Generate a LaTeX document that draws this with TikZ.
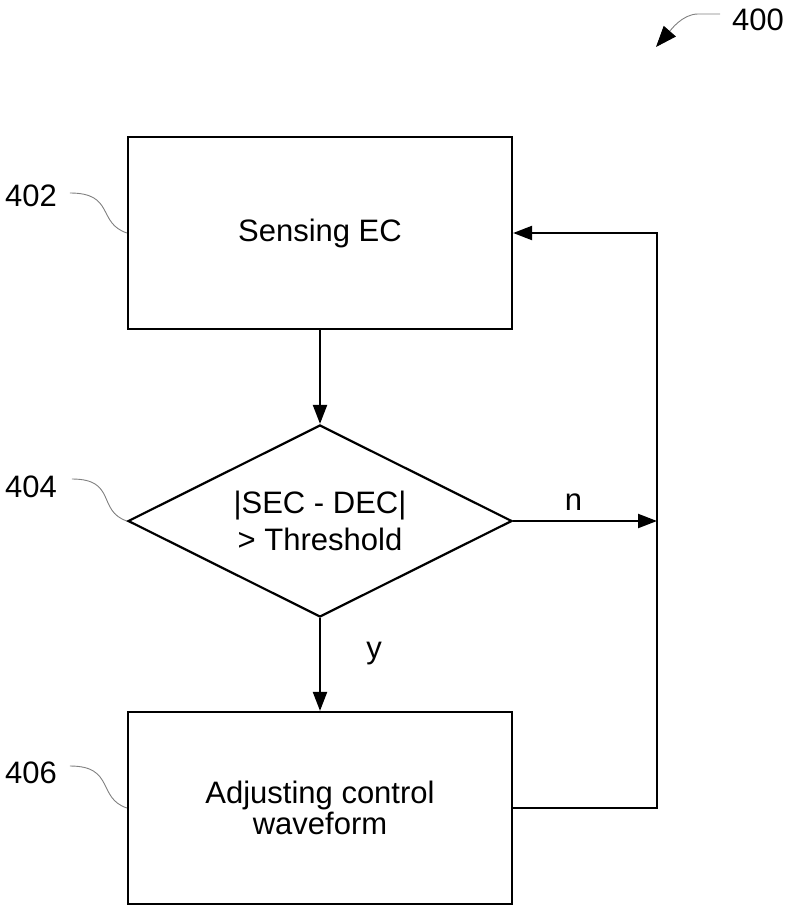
\documentclass[tikz,border=0pt]{standalone}
\usepackage{fontspec}
\setmainfont{Liberation Sans}
\usetikzlibrary{arrows.meta,shapes.geometric}

\begin{document}
\begin{tikzpicture}
    [x=1pt,y=-1pt,line width=2.2pt,>={Triangle[length=19pt,width=14pt]},
     every node/.style={font=\fontsize{31}{33}\selectfont},
     box/.style={draw,minimum width=384pt,minimum height=192pt,align=center},
     test/.style={draw,diamond,aspect=2,inner sep=0pt,minimum width=384pt,minimum height=192pt,align=center},
     ref/.style={inner sep=0pt},
     lead/.style={draw=gray,line width=0.9pt}]
    \useasboundingbox (0,0) rectangle (791,909);

    \node[box] (sense) at (320,233) {Sensing EC};
    \node[test] (check) at (320,521) {|SEC - DEC|\\[4pt]> Threshold};
    \node[box] (adjust) at (320,808) {Adjusting control\\[-2pt]waveform};

    \coordinate (rail) at (657,808);
    \path[->] (sense) edge (check);
    \path[->] (check) edge node[pos=0.38,right=42pt] {y} (adjust);
    \draw[->] (check.east) -- node[pos=0.42,above=6pt] {n} (check.east -| rail);
    \draw[->] (adjust.east) -- (rail) |- (sense.east);

    % reference numerals
    \node[ref] (l400) at (758,20) {400};
    \node[ref] (l402) at (31,196) {402};
    \node[ref] (l404) at (31,487) {404};
    \node[ref] (l406) at (31,773) {406};
    \coordinate (p400) at (656,47);

    \draw[lead,-{Triangle[length=21pt,width=16pt,color=black]}]
      ([shift={(-11,-6)}]l400.west) -- +(-22,0) .. controls +(-16,0) and +(14,-16) .. (p400);
    \draw[lead] ([shift={(12,-3)}]l402.east) .. controls +(45,0) and +(-30,-10) .. (sense.west);
    \draw[lead] ([shift={(14,-8)}]l404.east) .. controls +(45,0) and +(-30,-10) .. (check.west);
    \draw[lead] ([shift={(12,-7)}]l406.east) .. controls +(45,0) and +(-30,-10) .. (adjust.west);
\end{tikzpicture}
\end{document}
